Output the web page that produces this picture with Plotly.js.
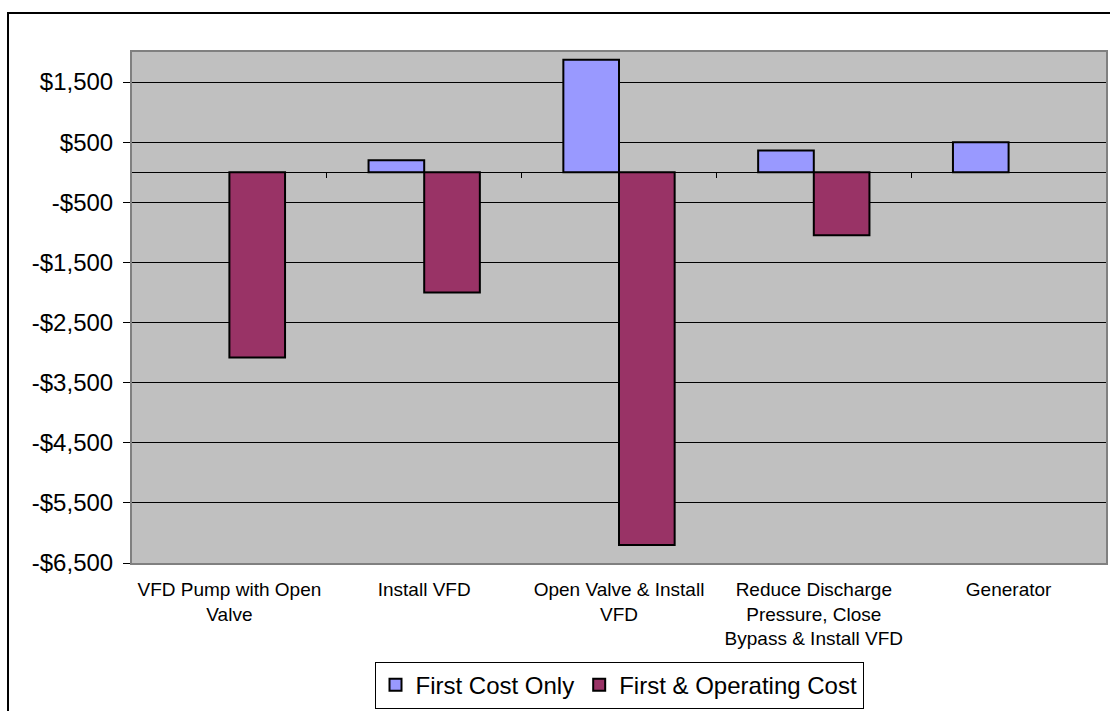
<!DOCTYPE html>
<html>
<head>
<meta charset="utf-8">
<script src="https://cdn.plot.ly/plotly-3.0.1.min.js"></script>
<style>
html, body { margin: 0; padding: 0; background: #ffffff; }
#chart { width: 1110px; height: 711px; }
</style>
</head>
<body>
<div id="chart"></div>
<script>
var categories = [
  "VFD Pump with Open<br>Valve",
  "Install VFD",
  "Open Valve & Install<br>VFD",
  "Reduce Discharge<br>Pressure, Close<br>Bypass & Install VFD",
  "Generator"
];
var firstCostOnly = [null, 200, 1870, 360, 500];
var firstAndOperatingCost = [-3080, -2000, -6200, -1050, null];
var seriesNames = ["First Cost Only", "First & Operating Cost"];
var yTickVals = [1500, 500, -500, -1500, -2500, -3500, -4500, -5500, -6500];
var yTickText = ["$1,500", "$500", "-$500", "-$1,500", "-$2,500", "-$3,500", "-$4,500", "-$5,500", "-$6,500"];
var yRange = [-6500, 2000];

var FONT = "Liberation Sans, Arial, Helvetica, sans-serif";
var zeroFrac = (0 - yRange[0]) / (yRange[1] - yRange[0]);

var boundaryTicks = [];
for (var i = 0; i < categories.length - 1; i++) boundaryTicks.push(i + 0.5);

var traces = [
  {
    type: "bar", name: seriesNames[0], x: categories, y: firstCostOnly,
    marker: { color: "#9999FF", line: { color: "#000000", width: 2 } },
    hoverinfo: "skip"
  },
  {
    type: "bar", name: seriesNames[1], x: categories, y: firstAndOperatingCost,
    marker: { color: "#993366", line: { color: "#000000", width: 2 } },
    hoverinfo: "skip"
  },
  {
    type: "scatter", mode: "markers", x: [], y: [], xaxis: "x2", yaxis: "y",
    showlegend: false, hoverinfo: "skip"
  }
];

var layout = {
  width: 1110, height: 711,
  margin: { l: 132, r: 4, t: 52, b: 148, autoexpand: false },
  paper_bgcolor: "#ffffff",
  plot_bgcolor: "#C0C0C0",
  font: { family: FONT, color: "#000000" },
  barmode: "group",
  bargap: 0.4286,
  bargroupgap: 0,
  showlegend: true,
  legend: {
    orientation: "h",
    x: 0.5, xanchor: "center",
    y: -0.193, yanchor: "top",
    bgcolor: "#ffffff",
    bordercolor: "#000000", borderwidth: 1,
    font: { family: FONT, size: 24, color: "#000000" },
    itemwidth: 30,
    tracegroupgap: 0
  },
  xaxis: {
    type: "category",
    categoryorder: "array", categoryarray: categories,
    range: [-0.5, categories.length - 0.5],
    showgrid: false, zeroline: false,
    showline: true, mirror: true, linecolor: "#808080", linewidth: 2,
    ticks: "",
    tickfont: { family: FONT, size: 19, color: "#000000" },
    ticklabelstandoff: 8,
    fixedrange: true
  },
  xaxis2: {
    overlaying: "x",
    anchor: "free",
    position: zeroFrac,
    side: "bottom",
    range: [-0.5, categories.length - 0.5],
    tickmode: "array", tickvals: boundaryTicks,
    ticks: "outside", ticklen: 5, tickwidth: 1, tickcolor: "#000000",
    showticklabels: false, showgrid: false, zeroline: false, showline: false,
    fixedrange: true
  },
  yaxis: {
    range: yRange,
    tickmode: "array", tickvals: yTickVals, ticktext: yTickText,
    showgrid: true, gridcolor: "#000000", gridwidth: 1,
    zeroline: true, zerolinecolor: "#000000", zerolinewidth: 1,
    showline: true, mirror: true, linecolor: "#808080", linewidth: 2,
    ticks: "outside", ticklen: 7, tickwidth: 1, tickcolor: "#000000",
    tickfont: { family: FONT, size: 24, color: "#000000" },
    ticklabelstandoff: 5,
    fixedrange: true
  },
  shapes: [
    {
      type: "rect", xref: "paper", yref: "paper",
      x0: -0.1273, x1: 1.2, y0: -0.5, y1: 1.0764,
      line: { color: "#000000", width: 2 },
      fillcolor: "rgba(0,0,0,0)",
      layer: "below"
    }
  ]
};

Plotly.newPlot("chart", traces, layout, { staticPlot: true, displayModeBar: false });
</script>
</body>
</html>
